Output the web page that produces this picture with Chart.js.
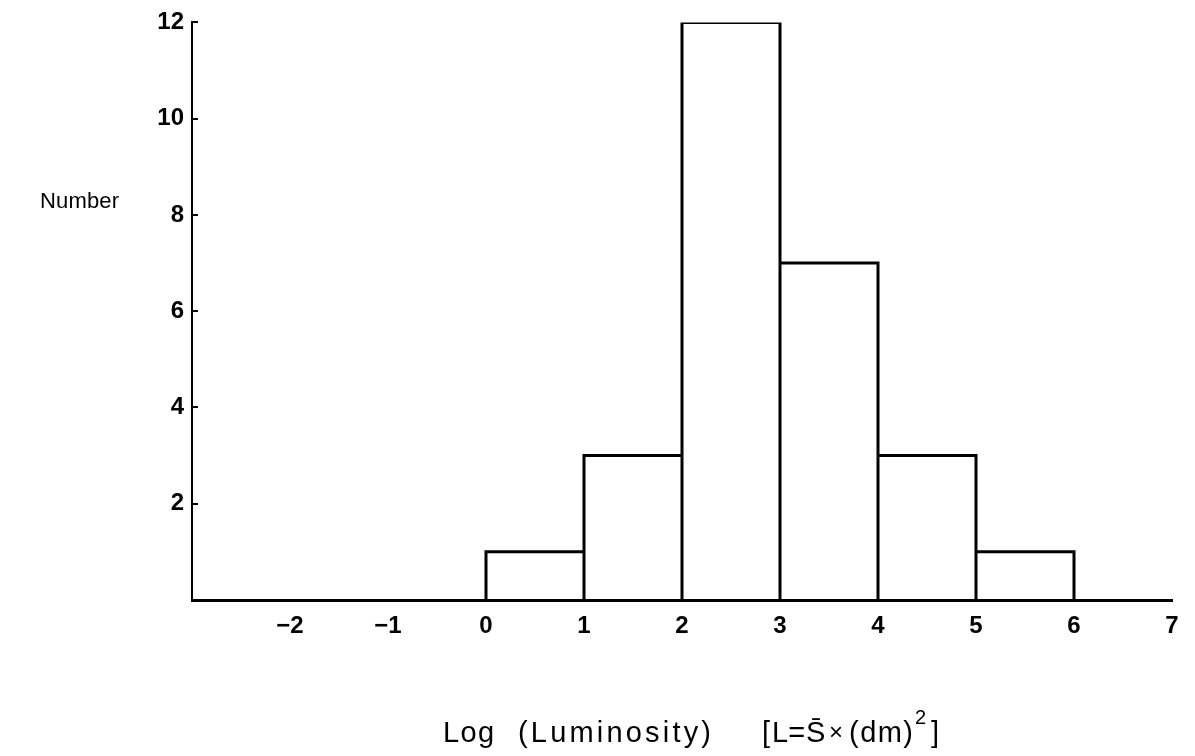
<!DOCTYPE html>
<html>
<head>
<meta charset="utf-8">
<script src="https://cdn.jsdelivr.net/npm/chart.js@4/dist/chart.umd.min.js"></script>
<style>
  html, body { margin: 0; padding: 0; background: #fff; }
  #wrap { width: 1195px; height: 756px; }
</style>
</head>
<body>
<div id="wrap"><canvas id="c" width="1195" height="756"></canvas></div>
<script>
// ---- data ----
const binEdges = [0, 1, 2, 3, 4, 5, 6];
const binCounts = [1, 3, 12, 7, 3, 1];
const xTickValues = [-2, -1, 0, 1, 2, 3, 4, 5, 6, 7];
const yTickValues = [2, 4, 6, 8, 10, 12];
const yAxisTitle = "Number";
const xAxisTitleParts = ["Log", "(Luminosity)", "[", "L=", "S\u0304", "\u00d7", "(dm)", "2", "]"];

// histogram outline built from the bins
const outline = [];
for (let i = 0; i < binCounts.length; i++) {
  outline.push({x: binEdges[i], y: 0});
  outline.push({x: binEdges[i], y: binCounts[i]});
  outline.push({x: binEdges[i + 1], y: binCounts[i]});
  outline.push({x: binEdges[i + 1], y: 0});
}

const INK = '#000';

function fitText(ctx, text, x0, x1, baseline, font) {
  ctx.font = font;
  ctx.letterSpacing = '0px';
  const w = ctx.measureText(text).width;
  const n = [...text].length;
  if (n > 1) {
    const ls = Math.max(0, (x1 - x0 - w) / (n - 1));
    ctx.letterSpacing = ls.toFixed(2) + 'px';
  }
  ctx.textAlign = 'left';
  ctx.textBaseline = 'alphabetic';
  ctx.fillText(text, x0, baseline);
  ctx.letterSpacing = '0px';
}

const decor = {
  id: 'decor',
  afterDraw(chart) {
    const ctx = chart.ctx;
    const ys = chart.scales.y;
    const left = chart.chartArea.left;
    ctx.save();
    ctx.fillStyle = INK;
    ctx.strokeStyle = INK;
    // inward tick marks on y axis
    ctx.lineWidth = 2;
    yTickValues.forEach(v => {
      const py = Math.round(ys.getPixelForValue(v));
      ctx.beginPath();
      ctx.moveTo(left, py);
      ctx.lineTo(left + 6, py);
      ctx.stroke();
    });
    // y axis title
    fitText(ctx, yAxisTitle, 40, 119, 208, '22px "Liberation Sans", Arial, sans-serif');
    // x axis title
    const f = '29px "Liberation Sans", Arial, sans-serif';
    const p = xAxisTitleParts;
    fitText(ctx, p[0], 443, 494, 742, f);
    fitText(ctx, p[1], 518, 711, 742, f);
    fitText(ctx, p[2], 762, 770, 742, f);
    fitText(ctx, p[3], 772, 803, 742, f);
    fitText(ctx, p[4], 806, 825, 742, f);
    fitText(ctx, p[5], 829, 843, 740, '24px "Liberation Sans", Arial, sans-serif');
    fitText(ctx, p[6], 849, 913, 742, f);
    fitText(ctx, p[7], 915, 927, 724, '20px "Liberation Sans", Arial, sans-serif');
    fitText(ctx, p[8], 931, 940, 742, f);
    ctx.restore();
  }
};

new Chart(document.getElementById('c'), {
  type: 'scatter',
  data: {
    datasets: [{
      data: outline,
      showLine: true,
      borderColor: INK,
      borderWidth: 3,
      pointRadius: 0,
      pointHoverRadius: 0,
      fill: false,
      tension: 0,
      borderJoinStyle: 'miter',
      borderCapStyle: 'square'
    }]
  },
  options: {
    responsive: false,
    animation: false,
    events: [],
    layout: { padding: { left: 0, right: 23, top: 20, bottom: 0 } },
    plugins: { legend: { display: false }, tooltip: { enabled: false } },
    scales: {
      x: {
        type: 'linear',
        min: -3,
        max: 7,
        afterFit(scale) { scale.height = 156; },
        afterBuildTicks(scale) { scale.ticks = xTickValues.map(v => ({value: v})); },
        grid: { display: true, drawOnChartArea: false, drawTicks: false },
        border: { display: true, color: INK, width: 3 },
        ticks: {
          color: INK,
          padding: 12,
          maxRotation: 0,
          autoSkip: false,
          font: { family: '"Liberation Sans", Arial, sans-serif', size: 24, weight: 'bold' },
          callback: v => (v < 0 ? '\u2212' + Math.abs(v) : String(v))
        }
      },
      y: {
        type: 'linear',
        min: 0,
        max: 12,
        afterFit(scale) { scale.width = 192; },
        afterBuildTicks(scale) { scale.ticks = yTickValues.map(v => ({value: v})); },
        grid: { display: true, drawOnChartArea: false, drawTicks: false },
        border: { display: true, color: INK, width: 2 },
        ticks: {
          color: INK,
          padding: 8,
          autoSkip: false,
          font: { family: '"Liberation Sans", Arial, sans-serif', size: 24, weight: 'bold' },
          callback: v => String(v)
        }
      }
    }
  },
  plugins: [decor]
});
</script>
</body>
</html>
